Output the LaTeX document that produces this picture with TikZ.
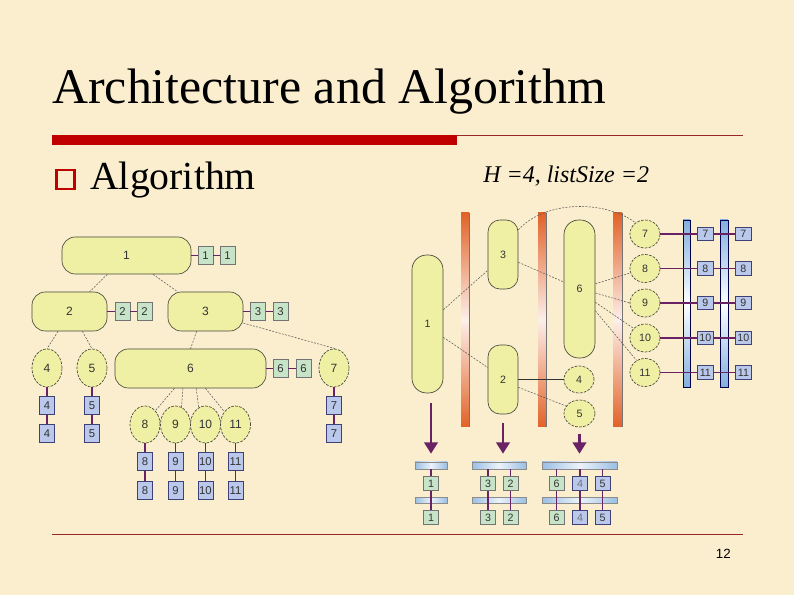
\documentclass[tikz,border=0pt]{standalone}
\usepackage{fontspec}
\setmainfont{Liberation Serif}
\setsansfont{Liberation Sans}
\usetikzlibrary{arrows.meta,shapes.geometric}
\definecolor{bg}{RGB}{250,238,206}
\definecolor{darkred}{RGB}{192,0,0}
\definecolor{linered}{RGB}{150,40,40}
\definecolor{nodeyel}{RGB}{240,240,165}
\definecolor{nodebd}{RGB}{70,70,60}
\definecolor{gbox}{RGB}{200,228,200}
\definecolor{bbox}{RGB}{185,200,235}
\definecolor{plink}{RGB}{105,35,100}
\definecolor{orng}{RGB}{226,98,40}
\definecolor{bblue}{RGB}{130,175,220}
\tikzset{
  sz/.style 2 args={minimum width=#1*0.75pt,minimum height=#2*0.75pt},
  lbl/.style={font=\sffamily\fontsize{9}{10}\selectfont, text=black!80},
  blbl/.style={font=\sffamily\fontsize{8.5}{10}\selectfont, text=black!80},
  rlbl/.style={font=\sffamily\fontsize{8}{9}\selectfont, text=black!80},
  rnode/.style={lbl, draw=nodebd, fill=nodeyel, line width=0.5pt, inner sep=0pt, rounded corners=10pt},
  enode/.style={lbl, ellipse, draw=nodebd, fill=nodeyel, line width=0.5pt, inner sep=0pt, dash pattern=on 2pt off 1pt},
  gl/.style={blbl, draw=black!55, fill=gbox, inner sep=0pt, line width=0.4pt, sz={15}{18}},
  bl/.style={blbl, draw=blue!30!black!75, fill=bbox, inner sep=0pt, line width=0.4pt, sz={15}{18}},
  tedge/.style={draw=black!65, line width=0.4pt, dash pattern=on 1.5pt off 1pt},
  sedge/.style={draw=black!80, line width=0.6pt},
  plk/.style={draw=plink, line width=1.3pt},
  plk2/.style={draw=plink, line width=1pt},
  parrow/.style={draw=plink, line width=2.2pt, -{Triangle[width=10pt,length=8.5pt]}},
  obar/.style={inner sep=0pt, top color=orng, bottom color=orng, middle color=orng!10!white},
  vbar/.style={inner sep=0pt, draw=blue!30!black, line width=0.5pt, top color=bblue, bottom color=bblue, middle color=white},
  hbar/.style={inner sep=0pt, draw=black!45, line width=0.4pt, left color=bblue!80, right color=bblue!80, middle color=bblue!15!white}
}
\begin{document}
\begin{tikzpicture}[x=0.75pt,y=-0.75pt]
\useasboundingbox (0,0) rectangle (794,595);
\fill[bg] (0,0) rectangle (794,595);

% header
\node[anchor=base west, inner sep=0pt, font=\fontsize{37.4}{40}\selectfont] (title) at (52,104) {Architecture and Algorithm};
\fill[darkred] (52,135) rectangle (457,145);
\draw[linered, line width=0.75pt] (457,135.5) -- (743,135.5);
\node[draw=darkred, line width=2.2pt, inner sep=0pt, sz={18}{19}] (bul) at (65.5,179.5) {};
\node[anchor=base west, inner sep=0pt, font=\fontsize{29.8}{32}\selectfont] (alg) at (90,190) {Algorithm};
\node[anchor=base west, inner sep=0pt, font=\itshape\fontsize{18}{20}\selectfont] (hl) at (483,183) {H =4, listSize =2};

% footer
\draw[linered, line width=0.75pt] (52,535) -- (743,535);
\node[anchor=base east, inner sep=0pt, font=\sffamily\fontsize{10}{12}\selectfont] (pg) at (731,559) {12};

% ---------- left tree ----------
\node[rnode, sz={129}{37}] (T1) at (126.5,255.5) {1};
\node[rnode, sz={75}{39}] (T2) at (69.5,311.5) {2};
\node[rnode, sz={75}{39}] (T3) at (205.5,311.5) {3};
\node[enode, sz={30}{38}] (T4) at (47,368) {4};
\node[enode, sz={30}{38}] (T5) at (92,368) {5};
\node[rnode, sz={151}{39}] (T6) at (190.5,368.5) {6};
\node[enode, sz={30}{38}] (T7) at (334,368) {7};
\node[enode, sz={30}{37}] (T8) at (145,424.5) {8};
\node[enode, sz={30}{37}] (T9) at (175.5,424.5) {9};
\node[enode, sz={30}{37}] (T10) at (205.5,424.5) {10};
\node[enode, sz={30}{37}] (T11) at (235.5,424.5) {11};

\node[gl] (L1a) at (205.5,255.5) {1};
\node[gl] (L1b) at (227.5,255.5) {1};
\node[gl] (L2a) at (122.5,311.5) {2};
\node[gl] (L2b) at (144.5,311.5) {2};
\node[gl] (L3a) at (258,311.5) {3};
\node[gl] (L3b) at (280.5,311.5) {3};
\node[gl] (L6a) at (280.5,368.5) {6};
\node[gl] (L6b) at (303.5,368.5) {6};
\node[bl] (L4a) at (47,405.5) {4};
\node[bl] (L4b) at (47,433.5) {4};
\node[bl] (L5a) at (92,405.5) {5};
\node[bl] (L5b) at (92,433.5) {5};
\node[bl] (L7a) at (334,405.5) {7};
\node[bl] (L7b) at (334,433.5) {7};
\node[bl] (L8a) at (145,461.5) {8};
\node[bl] (L8b) at (145,490.5) {8};
\node[bl] (L9a) at (175.5,461.5) {9};
\node[bl] (L9b) at (175.5,490.5) {9};
\node[bl] (L10a) at (205.5,461.5) {10};
\node[bl] (L10b) at (205.5,490.5) {10};
\node[bl] (L11a) at (235.5,461.5) {11};
\node[bl] (L11b) at (235.5,490.5) {11};

\draw[tedge] (T1) -- (T2);
\draw[tedge] (T1) -- (T3);
\draw[tedge] (T2.240) -- (T4.north);
\draw[tedge] (T2.303) -- (T5.north);
\draw[tedge] (T3.246) -- (T6.north);
\draw[tedge] (T3.-17) -- (T7.85);
\draw[tedge] (T6.231) -- (T8.53);
\draw[tedge] (T6.249) -- (T9.71);
\draw[tedge] (T6.286) -- (T10.112);
\draw[tedge] (T6.307) -- (T11.131);

\draw[plk] (T1) -- (L1a) -- (L1b);
\draw[plk] (T2) -- (L2a) -- (L2b);
\draw[plk] (T3) -- (L3a) -- (L3b);
\draw[plk] (T6) -- (L6a) -- (L6b);
\draw[plk] (T4) -- (L4a) -- (L4b);
\draw[plk] (T5) -- (L5a) -- (L5b);
\draw[plk] (T7) -- (L7a) -- (L7b);
\draw[plk] (T8) -- (L8a) -- (L8b);
\draw[plk] (T9) -- (L9a) -- (L9b);
\draw[plk] (T10) -- (L10a) -- (L10b);
\draw[plk] (T11) -- (L11a) -- (L11b);

% ---------- right diagram ----------
\node[obar, sz={8}{214}] (O1) at (465,320) {};
\node[obar, sz={8}{214}] (O2) at (542,320) {};
\node[obar, sz={9}{214}] (O3) at (617.5,320) {};
\draw[black!55, line width=0.5pt] (O1.north east) -- (O1.south east);
\draw[black!55, line width=0.5pt] (O2.north east) -- (O2.south east);
\draw[black!55, line width=0.5pt] (O3.north east) -- (O3.south east);
\node[vbar, sz={7}{167}] (BA) at (686.5,303.5) {};
\node[vbar, sz={8}{167}] (BB) at (724,303.5) {};

\node[rnode, rlbl, rounded corners=11pt, sz={31}{138}] (R1) at (427.5,324) {1};
\node[rnode, rlbl, rounded corners=9pt, sz={30}{69}] (R3) at (503,254.5) {3};
\node[rnode, rlbl, rounded corners=9pt, sz={30}{69}] (R2) at (503,379.5) {2};
\node[rnode, rlbl, rounded corners=11pt, sz={31}{138}] (R6) at (579.5,289) {6};
\node[enode, rlbl, sz={30}{27}] (R4) at (579,379.5) {4};
\node[enode, rlbl, sz={31}{27}] (R5) at (579.5,413.5) {5};
\node[enode, rlbl, sz={30}{28}] (R7) at (645,234) {7};
\node[enode, rlbl, sz={30}{28}] (R8) at (645,268.5) {8};
\node[enode, rlbl, sz={30}{28}] (R9) at (645,303) {9};
\node[enode, rlbl, sz={30}{28}] (R10) at (645,338) {10};
\node[enode, rlbl, sz={30}{28}] (R11) at (645,372.5) {11};

\node[bl, rlbl, sz={16}{13.5}] (RL7a) at (705.3,234) {7};
\node[bl, rlbl, sz={16}{13.5}] (RL7b) at (743.4,234) {7};
\node[bl, rlbl, sz={16}{13.5}] (RL8a) at (705.3,268.5) {8};
\node[bl, rlbl, sz={16}{13.5}] (RL8b) at (743.4,268.5) {8};
\node[bl, rlbl, sz={16}{13.5}] (RL9a) at (705.3,303) {9};
\node[bl, rlbl, sz={16}{13.5}] (RL9b) at (743.4,303) {9};
\node[bl, rlbl, sz={16}{13.5}] (RL10a) at (705.3,338) {10};
\node[bl, rlbl, sz={16}{13.5}] (RL10b) at (743.4,338) {10};
\node[bl, rlbl, sz={16}{13.5}] (RL11a) at (705.3,372.5) {11};
\node[bl, rlbl, sz={16}{13.5}] (RL11b) at (743.4,372.5) {11};

\draw[tedge] (R1.42) -- (R3.226);
\draw[tedge] (R1.-40) -- (R2.142);
\draw[sedge] (R2) -- (R4);
\draw[tedge] (R2.-27) -- (R5.151);
\draw[tedge] (R3.-27) -- (R6.156);
\draw[tedge] (R3.58) .. controls (545,200) and (605,200) .. (R7.130);
\draw[tedge] (R6.18) -- (R8.197);
\draw[tedge] (R6.-14) -- (R9.180);
\draw[tedge] (R6.-40) -- (R10.140);
\draw[tedge] (R6.-54) -- (R11.125);

\draw[plk2] (R7) -- (RL7a) -- (RL7b);
\draw[plk2] (R8) -- (RL8a) -- (RL8b);
\draw[plk2] (R9) -- (RL9a) -- (RL9b);
\draw[plk2] (R10) -- (RL10a) -- (RL10b);
\draw[plk2] (R11) -- (RL11a) -- (RL11b);

% ---------- bottom lists ----------
\node[hbar, sz={32}{7}] (G1t) at (431,465.5) {};
\node[hbar, sz={32}{6}] (G1m) at (431,500.5) {};
\node[hbar, sz={54}{7}] (G2t) at (499,465.5) {};
\node[hbar, sz={54}{6}] (G2m) at (499,500.5) {};
\node[hbar, sz={75}{7}] (G3t) at (579.5,465.5) {};
\node[hbar, sz={75}{6}] (G3m) at (579.5,500.5) {};

\node[gl, rlbl, sz={15}{14.5}] (B1a) at (431,483.5) {1};
\node[gl, rlbl, sz={15}{14.5}] (B1b) at (431,517.5) {1};
\node[gl, rlbl, sz={15}{14.5}] (B3a) at (488,483.5) {3};
\node[gl, rlbl, sz={15}{14.5}] (B3b) at (488,517.5) {3};
\node[gl, rlbl, sz={15}{14.5}] (B2a) at (510.5,483.5) {2};
\node[gl, rlbl, sz={15}{14.5}] (B2b) at (510.5,517.5) {2};
\node[gl, rlbl, sz={15}{14.5}] (B6a) at (556.5,483.5) {6};
\node[gl, rlbl, sz={15}{14.5}] (B6b) at (556.5,517.5) {6};
\node[bl, rlbl, sz={15}{14.5}, text=black!55] (B4a) at (580,483.5) {4};
\node[bl, rlbl, sz={15}{14.5}, text=black!55] (B4b) at (580,517.5) {4};
\node[bl, rlbl, sz={15}{14.5}] (B5a) at (602.5,483.5) {5};
\node[bl, rlbl, sz={15}{14.5}] (B5b) at (602.5,517.5) {5};

\draw[plk2] (B1a.north |- G1t.south) -- (B1a) -- (B1b);
\draw[plk2] (B3a.north |- G2t.south) -- (B3a) -- (B3b);
\draw[plk2] (B2a.north |- G2t.south) -- (B2a) -- (B2b);
\draw[plk2] (B6a.north |- G3t.south) -- (B6a) -- (B6b);
\draw[plk2] (B4a.north |- G3t.south) -- (B4a) -- (B4b);
\draw[plk2] (B5a.north |- G3t.south) -- (B5a) -- (B5b);

\draw[parrow, shorten <=7.5pt, shorten >=6pt] (G1t.north |- R1.south) -- (G1t.north);
\draw[parrow, shorten <=6.75pt, shorten >=6pt] (R2.south) -- (R2.south |- G2t.north);
\draw[parrow, shorten <=5.25pt, shorten >=6pt] (R5.south) -- (R5.south |- G3t.north);
\end{tikzpicture}
\end{document}
